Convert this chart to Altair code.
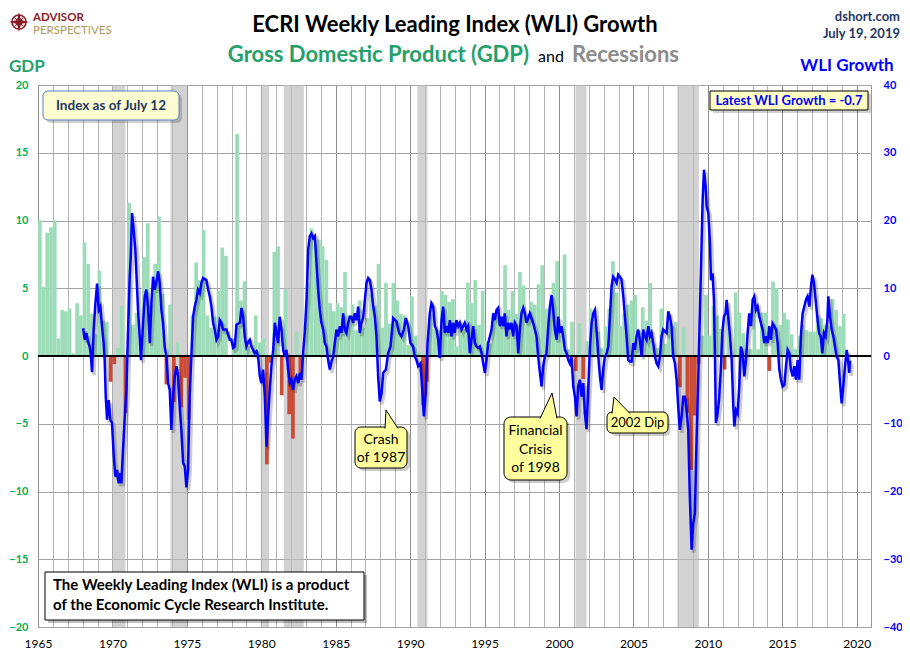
import altair as alt
import pandas as pd
import numpy as np

FONT = "Lato"
X0, Y0 = 38, 85          # page position of the plot area's top-left corner
W, H = 833, 542          # plot area size

GREEN = "#9ddcb9"
RED = "#cc4b37"
TITLE_GREEN = "#25a06b"
NAVY = "#1f3864"

# ---------------- data ----------------
# Real GDP growth, quarterly (annualized %), 1965Q1 .. 2019Q1
gdp_1965_1979 = [
    10.0, 5.1, 9.1, 9.5,  10.0, 1.3, 3.4, 3.3,  3.5, 0.2, 3.9, 3.0,
    8.4, 6.8, 3.1, 1.6,   6.3, 2.6, 2.5, -1.9,  -0.6, 0.6, 3.7, -4.2,
    11.3, 2.3, 3.2, 1.1,  7.3, 9.8, 3.8, 6.8,   10.3, 4.6, -2.1, 3.8,
    -3.4, 1.0, -3.8, -1.6, -4.7, 3.0, 6.9, 5.6, 9.3, 3.0, 2.1, 2.9,
    4.8, 8.0, 7.4, 0.0,   1.3, 16.4, 4.1, 5.5,  0.7, 0.4, 3.0, 1.0,
]
gdp_1980_1994 = [
    1.3, -8.0, -0.5, 7.7, 8.1, -2.9, 4.9, -4.3, -6.1, 1.8, -1.5, 0.2,
    5.4, 9.4, 8.2, 8.6,   8.1, 7.1, 3.9, 3.3,   3.9, 3.6, 6.2, 3.0,
    3.8, 1.9, 4.1, 2.1,   2.8, 4.6, 3.7, 6.8,   2.1, 5.4, 2.4, 5.4,
    4.1, 3.1, 3.0, 0.8,   4.4, 1.5, 0.3, -3.6,  -1.9, 3.1, 2.0, 1.9,
    4.8, 4.5, 4.0, 4.2,   0.7, 2.4, 2.0, 5.4,   3.9, 5.6, 2.3, 4.8,
]
gdp_1995_2009 = [
    1.1, 0.9, 3.2, 3.0,   2.9, 6.7, 3.4, 4.8,   3.1, 6.2, 5.2, 3.1,
    4.0, 3.8, 5.3, 6.7,   3.5, 3.5, 5.4, 7.0,   1.5, 7.5, 0.5, 2.5,
    -1.1, 2.4, -1.7, 1.1, 3.5, 2.4, 1.8, 0.6,   2.2, 3.5, 7.0, 4.7,
    2.2, 3.1, 3.8, 4.1,   4.5, 1.9, 3.6, 2.6,   5.4, 0.9, 0.6, 3.5,
    0.9, 2.3, 2.2, 2.5,   -2.3, 2.1, -4.2, -8.4, -4.4, -0.6, 1.5, 4.5,
]
gdp_2010_2019 = [
    1.5, 3.7, 3.0, 2.0,   -1.0, 2.9, -0.1, 4.7, 3.2, 1.7, 0.5, 0.5,
    3.6, 0.5, 3.2, 3.2,   -1.1, 5.5, 5.0, 2.3,  3.2, 2.7, 1.6, 0.5,
    1.5, 2.3, 1.9, 1.8,   1.8, 3.0, 2.8, 2.3,   2.2, 4.2, 3.4, 2.2,
    3.1,
]
gdp = gdp_1965_1979 + gdp_1980_1994 + gdp_1995_2009 + gdp_2010_2019

# Recessions (start / end, decimal years)
rec_start = [1969.97, 1973.90, 1979.97, 1981.51, 1990.49, 2001.11, 2007.95]
rec_end = [1970.87, 1975.02, 1980.53, 1982.86, 1991.16, 2001.85, 2009.40]

# ECRI WLI growth (decimal year, %)
wli_t_1 = [1968.03, 1968.14, 1968.25, 1968.36, 1968.47, 1968.54, 1968.63, 1968.74, 1968.85, 1968.97,
           1969.08, 1969.19, 1969.30, 1969.41, 1969.48, 1969.55, 1969.64, 1969.75, 1969.86, 1969.97,
           1970.09, 1970.20, 1970.31, 1970.42, 1970.53, 1970.60, 1970.71, 1970.83, 1970.94, 1971.05,
           1971.16, 1971.23, 1971.32, 1971.43, 1971.54, 1971.61, 1971.72, 1971.83, 1971.92, 1972.06,
           1972.17, 1972.28, 1972.39, 1972.51, 1972.62, 1972.73, 1972.84, 1972.95, 1973.07, 1973.18,
           1973.29, 1973.40, 1973.51, 1973.63, 1973.74, 1973.85, 1973.96, 1974.07, 1974.19, 1974.30,
           1974.41, 1974.52, 1974.63, 1974.75, 1974.86, 1974.97, 1975.08, 1975.19, 1975.31, 1975.42,
           1975.53, 1975.64, 1975.75, 1975.87, 1975.98, 1976.09, 1976.31, 1976.43, 1976.54, 1976.65,
           1976.76, 1976.87, 1976.99, 1977.10, 1977.21, 1977.32, 1977.43, 1977.66, 1977.88]
wli_v_1 = [4.1, 2.4, 3.4, 2.1, 1.4, 0.4, -2.4, 3.9, 7.6, 10.7,
           6.8, 7.3, 4.4, 1.9, -0.6, -6.0, -9.4, -6.5, -9.4, -9.9,
           -14.8, -17.8, -16.8, -18.8, -17.3, -18.8, -13.9, -8.9, -5.0, 3.9,
           11.7, 14.7, 21.1, 18.6, 15.7, 12.2, 6.8, 2.9, -0.6, 4.9,
           8.8, 9.8, 7.3, 1.9, 7.8, 11.7, 9.8, 10.8, 12.5, 10.8,
           6.8, 4.9, 1.4, -0.1, -4.0, -5.0, -10.9, -6.0, -3.0, -1.5,
           -3.0, -7.5, -10.9, -15.8, -16.3, -19.4, -16.8, -6.0, 0.4, 5.8,
           7.3, 8.3, 9.8, 9.3, 10.8, 11.5, 11.2, 9.8, 8.8, 7.3,
           4.9, 3.9, 2.4, 2.9, 5.3, 4.9, 3.9, 3.9, 2.4]

wli_t_2 = [1977.99, 1978.11, 1978.22, 1978.33, 1978.56, 1978.67, 1978.78, 1978.89, 1979.00, 1979.12,
           1979.23, 1979.34, 1979.45, 1979.56, 1979.68, 1979.79, 1979.90, 1980.01, 1980.12, 1980.24,
           1980.35, 1980.46, 1980.57, 1980.68, 1980.80, 1980.91, 1981.02, 1981.13, 1981.24, 1981.36,
           1981.47, 1981.58, 1981.69, 1981.80, 1981.92, 1982.03, 1982.14, 1982.25, 1982.36, 1982.48,
           1982.59, 1982.70, 1982.81, 1982.92, 1983.04, 1983.15, 1983.26, 1983.37, 1983.48, 1983.60,
           1983.71, 1983.82, 1983.93, 1984.04, 1984.16, 1984.27, 1984.38, 1984.49, 1984.60, 1984.72,
           1984.83, 1984.94, 1985.05, 1985.16, 1985.28, 1985.39, 1985.50, 1985.61, 1985.72, 1985.84,
           1985.95, 1986.06, 1986.17, 1986.28, 1986.40, 1986.51, 1986.62, 1986.73, 1986.84, 1986.96,
           1987.07, 1987.18, 1987.29, 1987.40, 1987.52, 1987.63, 1987.74, 1987.85, 1987.96, 1988.08,
           1988.19]
wli_v_2 = [2.4, 1.2, 1.4, 4.6, 4.9, 7.1, 5.8, 2.9, 1.4, 2.1,
           2.4, 1.4, 0.9, 0.4, 0.7, -0.1, -3.0, -4.0, -2.0, -6.0,
           -13.4, -8.9, -5.0, -1.5, 0.9, 4.9, 3.4, 1.9, 5.8, 3.9,
           0.9, -0.1, 0.9, -2.0, -4.0, -3.5, -5.0, -3.5, -3.0, -4.0,
           -2.5, -3.5, 0.4, 3.4, 8.3, 15.7, 17.7, 18.1, 17.4, 17.7,
           13.7, 9.8, 6.8, 4.9, 3.9, 1.9, 1.4, -0.6, -2.0, -0.8,
           -0.1, 1.9, 3.9, 2.9, 4.4, 3.4, 6.3, 3.9, 3.4, 4.9,
           5.8, 5.8, 4.9, 6.3, 5.3, 7.3, 3.4, 4.9, 5.6, 8.3,
           10.8, 11.5, 11.2, 9.8, 7.3, 5.8, 2.9, -3.0, -6.7, -5.5,
           -2.5]

wli_t_3 = [1988.37, 1988.52, 1988.68, 1988.86, 1989.08, 1989.26, 1989.42, 1989.58, 1989.71, 1989.87,
           1990.02, 1990.20, 1990.31, 1990.43, 1990.54, 1990.70, 1990.83, 1990.92, 1991.05, 1991.17,
           1991.32, 1991.43, 1991.55, 1991.66, 1991.77, 1991.88, 1991.99, 1992.11, 1992.22, 1992.33,
           1992.44, 1992.56, 1992.67, 1992.78, 1992.89, 1993.00, 1993.11, 1993.23, 1993.34, 1993.45,
           1993.56, 1993.67, 1993.79, 1993.90, 1994.01, 1994.12, 1994.24, 1994.35, 1994.46, 1994.57,
           1994.68, 1994.80, 1994.91, 1995.02, 1995.13, 1995.24, 1995.36, 1995.47, 1995.58, 1995.69,
           1995.80, 1995.91, 1996.03, 1996.14, 1996.25, 1996.36, 1996.47, 1996.59, 1996.70, 1996.81,
           1996.92, 1997.03, 1997.15, 1997.26, 1997.37, 1997.48, 1997.60, 1997.71, 1997.82, 1998.04,
           1998.27]
wli_v_3 = [-2.0, 0.4, 1.4, 5.6, 5.1, 3.4, 2.9, 3.9, 5.6, 4.4,
           1.9, 1.4, -0.1, -0.6, -1.5, -1.1, -5.5, -8.9, -5.5, 1.9,
           6.3, 7.8, 7.3, 4.4, 3.9, 2.4, -0.3, 5.3, 7.3, 3.4,
           4.4, 3.4, 5.3, 2.9, 4.9, 3.4, 5.3, 4.4, 4.9, 3.9,
           4.4, 4.9, 3.9, 4.4, 0.4, 2.4, 4.4, 1.9, 1.4, 1.2,
           1.4, 0.4, -1.1, -2.5, -0.6, 1.9, 2.9, 3.9, 6.3, 5.3,
           6.8, 7.1, 4.4, 5.8, 4.4, 6.3, 2.9, 4.9, 3.9, 4.9,
           2.9, 4.9, 4.4, 0.4, 3.9, 6.3, 7.1, 6.3, 4.9, 6.3,
           4.8]

wli_t_4 = [1998.38, 1998.49, 1998.60, 1998.72, 1998.83, 1998.94, 1999.05, 1999.16, 1999.28, 1999.39,
           1999.50, 1999.61, 1999.72, 1999.84, 1999.95, 2000.06, 2000.17, 2000.28, 2000.40, 2000.51,
           2000.62, 2000.73, 2000.84, 2000.96, 2001.07, 2001.18, 2001.29, 2001.40, 2001.52, 2001.63,
           2001.74, 2001.85, 2001.96, 2002.08, 2002.19, 2002.30, 2002.41, 2002.52, 2002.64, 2002.75,
           2002.86, 2002.97, 2003.08, 2003.20, 2003.31, 2003.42, 2003.53, 2003.64, 2003.76, 2003.87,
           2003.98, 2004.09, 2004.20, 2004.32, 2004.43, 2004.54, 2004.65, 2004.76, 2004.88, 2004.99,
           2005.10, 2005.21, 2005.32, 2005.43, 2005.55, 2005.66, 2005.77, 2005.88, 2006.00, 2006.11,
           2006.22, 2006.33, 2006.45, 2006.56, 2006.67, 2006.78, 2006.89, 2007.00, 2007.12, 2007.23,
           2007.34, 2007.45, 2007.56, 2007.67, 2007.79, 2007.90, 2008.01, 2008.12, 2008.24, 2008.35,
           2008.46, 2008.57, 2008.68, 2008.79, 2008.91, 2009.02, 2009.13]
wli_v_4 = [3.9, 2.9, -0.1, -2.5, -4.5, -1.5, -0.1, 0.4, 4.4, 7.3,
           9.0, 6.8, 3.9, 2.4, 5.8, 3.4, 4.4, 2.9, 0.9, 0.4,
           -0.6, -1.1, -0.1, -4.5, -6.0, -8.9, -4.5, -3.5, -6.0, -4.0,
           -8.5, -10.8, -5.0, 1.4, 4.8, 6.3, 6.8, 3.9, -0.1, -3.0,
           -5.0, -2.0, -0.1, 0.4, 1.4, 5.8, 10.3, 11.7, 11.3, 10.8,
           12.0, 11.7, 11.3, 8.8, 5.8, 2.9, -0.6, -0.8, -0.8, 1.9,
           0.9, 2.9, 3.9, 2.4, -0.1, 3.9, 2.9, 2.4, 4.4, 2.9,
           3.4, 1.9, -0.1, -1.1, -1.5, -0.1, 2.9, 3.9, 3.6, 3.4,
           6.6, 5.8, 4.4, -0.1, -1.1, -3.5, -7.5, -10.9, -8.9, -6.0,
           -6.0, -7.9, -10.9, -20.8, -28.6, -24.7, -23.2]

wli_t_5 = [2009.24, 2009.36, 2009.47, 2009.58, 2009.65, 2009.74, 2009.85, 2009.92, 2010.03, 2010.14,
           2010.21, 2010.32, 2010.41, 2010.48, 2010.54, 2010.63, 2010.75, 2010.86, 2010.97, 2011.08,
           2011.19, 2011.26, 2011.37, 2011.49, 2011.60, 2011.71, 2011.78, 2011.89, 2012.00, 2012.11,
           2012.22, 2012.34, 2012.45, 2012.56, 2012.67, 2012.78, 2012.90, 2013.01, 2013.12, 2013.23,
           2013.34, 2013.46, 2013.57, 2013.68, 2013.79, 2013.90, 2014.02, 2014.13, 2014.24, 2014.35,
           2014.46, 2014.58, 2014.69, 2014.80, 2014.91, 2015.02, 2015.14, 2015.25, 2015.36, 2015.47,
           2015.58, 2015.70, 2015.81, 2015.92, 2016.03, 2016.14, 2016.26, 2016.37, 2016.48, 2016.59,
           2016.70, 2016.82, 2016.93, 2017.02, 2017.13, 2017.24, 2017.35, 2017.47, 2017.58, 2017.69,
           2017.80, 2017.91, 2018.03, 2018.09, 2018.21, 2018.32, 2018.43, 2018.54, 2018.65, 2018.77,
           2018.88, 2018.99, 2019.10, 2019.21, 2019.33, 2019.42, 2019.50, 2019.55]
wli_v_5 = [-12.4, -3.0, 6.8, 16.7, 23.1, 27.5, 25.0, 22.1, 21.1, 16.7,
           11.2, 12.2, 8.3, -0.6, -9.9, -8.9, -6.5, -2.5, 3.4, 5.8,
           6.3, 8.3, 5.8, 2.9, -0.6, -7.5, -10.4, -8.0, -8.5, -4.5,
           1.4, 0.4, -3.0, -0.6, 3.4, 6.3, 4.4, 8.3, 8.8, 6.8,
           7.3, 5.8, 4.8, 3.9, 1.9, 2.9, 1.9, 4.4, 2.4, 4.8,
           4.4, 3.9, 1.9, -2.0, -3.5, -4.5, -4.3, -1.5, 0.9, 0.4,
           -2.0, -3.0, -1.5, -3.5, -0.6, -3.5, 3.4, 6.3, 7.3, 8.3,
           8.8, 7.3, 10.3, 12.0, 10.8, 8.3, 5.8, 3.4, 2.9, 0.4,
           3.4, 2.9, 5.3, 8.8, 5.8, 3.9, 2.9, 1.4, -0.1, -0.6,
           -4.0, -7.0, -4.5, -1.5, 0.9, -0.6, -2.5, -0.7]

# ---------------- tables built from the arrays ----------------
q_start = 1965 + np.arange(len(gdp)) * 0.25
gdp_df = pd.DataFrame({"start": q_start, "end": q_start + 0.25, "gdp": gdp})
rec_df = pd.DataFrame({"start": rec_start, "end": rec_end})
wli_df = pd.DataFrame({
    "t": wli_t_1 + wli_t_2 + wli_t_3 + wli_t_4 + wli_t_5,
    "wli": wli_v_1 + wli_v_2 + wli_v_3 + wli_v_4 + wli_v_5,
})
one = pd.DataFrame({"k": [0]})

# ---------------- scales & axes ----------------
xs = alt.Scale(domain=[1965, 2020.96], nice=False, zero=False)
ys = alt.Scale(domain=[-20, 20], nice=False, zero=False)
ws = alt.Scale(domain=[-40, 40], nice=False, zero=False)

x_axis = alt.Axis(
    values=list(range(1965, 2021)),
    labelExpr="datum.value % 5 === 0 ? toString(datum.value) : ''",
    grid=True,
    gridColor={"condition": {"test": "datum.value % 5 === 0", "value": "#8f8f8f"}, "value": "#b5b5b5"},
    gridWidth=1, ticks=False, domain=False, labelFont=FONT, labelFontSize=12,
    labelColor="#000000", labelPadding=11, labelFlush=False, labelOverlap=False, title=None,
)
gdp_axis = alt.Axis(
    values=list(range(-20, 21, 5)), grid=True, gridColor="#a3a3a3", gridWidth=1,
    ticks=False, domain=False, labelFont=FONT, labelFontSize=11, labelFontWeight="bold",
    labelColor="#00b050", labelPadding=10, labelFlush=False, labelOverlap=False,
    title=None, orient="left",
)
wli_axis = alt.Axis(
    values=list(range(-40, 41, 10)), grid=False, ticks=False, domain=False,
    labelFont=FONT, labelFontSize=11, labelFontWeight="bold", labelColor="#0000ff",
    labelPadding=12, labelFlush=False, labelOverlap=False, title=None, orient="right",
)

# ---------------- GDP group ----------------
rec = alt.Chart(rec_df).mark_rect(color="#bcbcbc", opacity=0.68).encode(
    x=alt.X("start:Q", scale=xs, axis=x_axis), x2="end:Q",
    y=alt.value(0), y2=alt.value(H),
)
bars = alt.Chart(gdp_df).mark_rect().encode(
    x=alt.X("start:Q", scale=xs, axis=x_axis), x2="end:Q",
    y=alt.Y("gdp:Q", scale=ys, axis=gdp_axis), y2=alt.datum(0),
    color=alt.condition("datum.gdp >= 0", alt.value(GREEN), alt.value(RED)),
)
zero = alt.Chart(one).mark_rule(color="#000000", strokeWidth=2.2).encode(
    y=alt.YDatum(0, scale=ys, axis=gdp_axis)
)
gdp_group = alt.layer(rec, bars, zero)

# ---------------- WLI group ----------------
shadow = alt.Chart(wli_df).mark_line(color="#000000", opacity=0.2, strokeWidth=3.5,
                                     xOffset=2, yOffset=3).encode(
    x=alt.X("t:Q", scale=xs, axis=x_axis), y=alt.Y("wli:Q", scale=ws, axis=wli_axis))
line = alt.Chart(wli_df).mark_line(color="#0000ff", strokeWidth=2.5).encode(
    x=alt.X("t:Q", scale=xs, axis=x_axis), y=alt.Y("wli:Q", scale=ws, axis=wli_axis))
wli_group = alt.layer(shadow, line)


# ---------------- annotations ----------------
def txt(s, x, y, size, color, weight="bold", align="center", baseline="alphabetic"):
    return alt.Chart(one).mark_text(text=s, font=FONT, fontSize=size, color=color,
                                    fontWeight=weight, align=align, baseline=baseline).encode(
        x=alt.value(x - X0), y=alt.value(y - Y0))


def box(x1, y1, x2, y2, fill, stroke=None, r=0, opacity=1.0, sw=1):
    kw = dict(fill=fill, cornerRadius=r, opacity=opacity)
    if stroke:
        kw.update(stroke=stroke, strokeWidth=sw)
    else:
        kw.update(strokeWidth=0)
    return alt.Chart(one).mark_rect(**kw).encode(
        x=alt.value(x1 - X0), x2=alt.value(x2 - X0), y=alt.value(y1 - Y0), y2=alt.value(y2 - Y0))


def sym(path, x, y, fill, stroke=None, size=4, sw=1):
    kw = dict(shape=path, size=size, filled=True, fill=fill, opacity=1)
    if stroke:
        kw.update(stroke=stroke, strokeWidth=sw)
    else:
        kw.update(strokeWidth=0)
    return alt.Chart(one).mark_point(**kw).encode(x=alt.value(x - X0), y=alt.value(y - Y0))


YEL = "#ffff9e"
ann = [
    # logo
    alt.Chart(one).mark_point(shape="circle", size=200, filled=False, color="#8b1c24",
                              strokeWidth=1.6, opacity=1).encode(
        x=alt.value(19 - X0), y=alt.value(22 - Y0)),
    sym("M0,-10L2,-2L10,0L2,2L0,10L-2,2L-10,0L-2,-2Z", 19, 22, "#8b1c24"),
    sym("M-5,-5L0,-1.5L5,-5L1.5,0L5,5L0,1.5L-5,5L-1.5,0Z", 19, 22, "#8b1c24"),
    txt("ADVISOR", 33, 20.5, 11.5, "#8b1c24", align="left"),
    txt("PERSPECTIVES", 33, 33.5, 11.5, "#b4975a", weight="normal", align="left"),
    # titles
    txt("ECRI Weekly Leading Index (WLI) Growth", 455, 32, 22, "#000000"),
    txt("Gross Domestic Product (GDP)", 529, 62, 22, TITLE_GREEN, align="right"),
    txt("and", 551, 62, 16, "#000000", weight="normal"),
    txt("Recessions", 572, 62, 22, "#8c8c8c", align="left"),
    txt("dshort.com", 900, 21, 13, NAVY, align="right"),
    txt("July 19, 2019", 900, 38, 13, NAVY, align="right"),
    txt("GDP", 9, 72, 17, TITLE_GREEN, align="left"),
    txt("WLI Growth", 847, 71, 17, "#0000ff"),
    # index box
    box(46, 94, 182, 123, "#000000", opacity=0.18, r=5),
    box(43, 91, 179, 120, "#fdfdd2", "#5b80c0", r=5),
    txt("Index as of July 12", 111, 106, 13.5, NAVY, baseline="middle"),
    # latest box
    box(713, 94, 871, 113, "#000000", opacity=0.18),
    box(710, 91, 868, 110, "#ffffc4", "#000000"),
    txt("Latest WLI Growth = -0.7", 789, 101, 13, "#0000ff", baseline="middle"),
    # note box
    box(48, 575, 367, 623, "#000000", opacity=0.25),
    box(45, 572, 364, 620, "#ffffff", "#000000"),
    txt("The Weekly Leading Index (WLI) is a product", 53, 590, 15, "#000000", align="left"),
    txt("of the Economic Cycle Research Institute.", 53, 610, 15, "#000000", align="left"),
    # Crash of 1987
    box(358, 430, 410, 471, "#000000", opacity=0.2, r=6),
    box(355, 427, 407, 468, YEL, "#000000", r=6),
    sym("M0,1.5L1,-17L13,1.5", 385, 427, YEL, "#000000"),
    txt("Crash", 381, 440, 14, "#000000", weight="normal", baseline="middle"),
    txt("of 1987", 381, 458, 14, "#000000", weight="normal", baseline="middle"),
    # Financial Crisis of 1998
    box(507, 420, 570, 483, "#000000", opacity=0.2, r=7),
    box(504, 417, 567, 480, YEL, "#000000", r=7),
    sym("M0,1.5L12,-24L17,1.5", 540, 417, YEL, "#000000"),
    txt("Financial", 535.5, 431, 14, "#000000", weight="normal", baseline="middle"),
    txt("Crisis", 535.5, 449.5, 14, "#000000", weight="normal", baseline="middle"),
    txt("of 1998", 535.5, 468, 14, "#000000", weight="normal", baseline="middle"),
    # 2002 Dip
    box(611, 415, 670, 436, "#000000", opacity=0.2, r=5),
    box(607, 412, 668, 433, YEL, "#000000", r=5),
    sym("M0,1.5L2,-15L18,1.5", 612, 412, YEL, "#000000"),
    txt("2002 Dip", 637.5, 423, 13, "#000000", weight="normal", baseline="middle"),
]
ann_group = alt.layer(*ann)

chart = alt.layer(gdp_group, wli_group, ann_group).resolve_scale(y="independent").properties(
    width=W, height=H,
    autosize=alt.AutoSizeParams(type="none"),
    padding={"left": 30, "top": 77, "right": 31, "bottom": 26},
    background="#ffffff",
).configure_view(stroke="#9a9a9a", strokeWidth=1)

chart.save("out.html", embed_options={"renderer": "svg", "actions": False})
